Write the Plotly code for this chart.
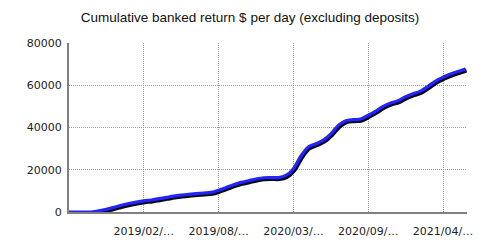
import plotly.graph_objects as go

# data: cumulative banked return per period index
idx = list(range(54))
values = [0, 0, 0, 0, 500, 1300, 2200, 3200, 4000, 4700,
          5300, 5700, 6300, 6900, 7500, 8000, 8400, 8700, 9000, 9300,
          10300, 11600, 12900, 14000, 14800, 15600, 16200, 16300, 16300, 17300,
          20500, 26500, 30800, 32300, 34000, 37000, 41000, 43200, 43700, 44000,
          45800, 47800, 50000, 51600, 52700, 54600, 56000, 57200, 59500, 62000,
          63800, 65300, 66500, 67700]
tick_pos = [10, 20, 30, 40, 50]
tick_text = ["2019/02/…", "2019/08/…", "2020/03/…", "2020/09/…", "2021/04/…"]
y_ticks = [0, 20000, 40000, 60000, 80000]
y_text = ["0", "20000", "40000", "60000", "80000"]

XR = [0, 53.2]
YR = [0, 80000]
# shadow offset (pixels) implemented as axis-range shift
dx_units = -1.0 * (XR[1] - XR[0]) / 398
dy_units = 1.5 * (YR[1] - YR[0]) / 172

fig = go.Figure()
# invisible trace on the main axes so the grid/ticks are drawn
fig.add_trace(go.Scatter(x=idx, y=values, mode="lines",
                         line=dict(color="rgba(0,0,0,0)", width=0),
                         hoverinfo="skip", showlegend=False))
fig.add_trace(go.Scatter(x=idx, y=values, mode="lines", xaxis="x2", yaxis="y2",
                         line=dict(color="#0a0a14", width=4, shape="spline"),
                         hoverinfo="skip", showlegend=False))
fig.add_trace(go.Scatter(x=idx, y=values, mode="lines", xaxis="x3", yaxis="y3",
                         line=dict(color="#2424ff", width=3.2, shape="spline"),
                         showlegend=False))

tf = dict(family="DejaVu Sans", size=11, color="#222")
fig.update_layout(
    width=500, height=250,
    margin=dict(l=69, r=33, t=43, b=35),
    paper_bgcolor="white", plot_bgcolor="white",
    title=dict(text="Cumulative banked return $ per day (excluding deposits)",
               x=0.5, xanchor="center", y=0.93, yanchor="middle",
               font=dict(family="Liberation Sans", size=13.5, color="#111")),
    font=tf,
    xaxis=dict(range=XR, tickvals=tick_pos, ticktext=tick_text,
               showgrid=True, gridcolor="#999999", griddash="1px,1px", gridwidth=1,
               showline=True, linecolor="#808080", linewidth=2,
               zeroline=False, ticks="", ticklabelstandoff=8, tickfont=tf),
    yaxis=dict(range=YR, tickvals=y_ticks, ticktext=y_text,
               showgrid=True, gridcolor="#999999", griddash="1px,1px", gridwidth=1,
               showline=True, linecolor="#808080", linewidth=2,
               zeroline=False, ticks="", ticklabelstandoff=3, tickfont=tf),
    xaxis2=dict(overlaying="x", range=[XR[0] + dx_units, XR[1] + dx_units],
                visible=False),
    yaxis2=dict(overlaying="y", range=[YR[0] + dy_units, YR[1] + dy_units],
                visible=False),
    xaxis3=dict(overlaying="x", range=XR, visible=False),
    yaxis3=dict(overlaying="y", range=YR, visible=False),
)

fig.write_html("out.html")
